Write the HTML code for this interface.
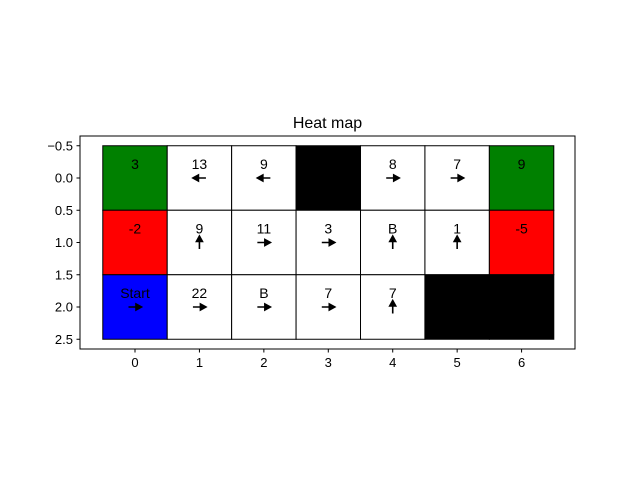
<!DOCTYPE html>
<html><head><meta charset="utf-8"><style>body{margin:0;background:#fff}svg{display:block;font-family:"Liberation Sans","DejaVu Sans",sans-serif}</style></head>
<body>
<svg id="c" width="640" height="480" xmlns="http://www.w3.org/2000/svg">
<text x="327.5" y="128" font-size="16" text-anchor="middle">Heat map</text>
<g id="cells"></g>
<rect x="80" y="136" width="495" height="213" fill="none" stroke="#000" stroke-width="1"/>
<g id="ticks" font-size="13"></g>
</svg>
<script>
const colLabels=[0,1,2,3,4,5,6];
const rowTicks=["−0.5","0.0","0.5","1.0","1.5","2.0","2.5"];
const rowTickVals=[-0.5,0,0.5,1,1.5,2,2.5];
const cellColors=[
["green","white","white","black","white","white","green"],
["red","white","white","white","white","white","red"],
["blue","white","white","white","white","black","black"]];
const cellLabels=[
["3","13","9","","8","7","9"],
["-2","9","11","3","B","1","-5"],
["Start","22","B","7","7","",""]];
const cellArrows=[
["","left","left","","right","right",""],
["","up","right","right","up","up",""],
["right","right","right","right","up","",""]];
const colorMap={green:"#008000",red:"#ff0000",blue:"#0000ff",black:"#000000",white:"#ffffff"};
const X=v=>135+v*64.43, Y=v=>178+v*64.5;
const NS="http://www.w3.org/2000/svg";
const g=document.getElementById('cells'), t=document.getElementById('ticks');
function mk(tag,attrs,parent){const e=document.createElementNS(NS,tag);for(const k in attrs)e.setAttribute(k,attrs[k]);parent.appendChild(e);return e;}
cellColors.forEach((row,r)=>row.forEach((c,ci)=>{
  const rc=mk('rect',{x:X(ci-0.5),y:Y(r-0.5),width:64.43,height:64.5,fill:colorMap[c],stroke:'#000','stroke-width':1},g);
  
  
  const lab=cellLabels[r][ci];
  if(lab){const tx=mk('text',{x:X(ci),y:Y(r)-9,'font-size':14,'text-anchor':'middle'},g);tx.textContent=lab;
    
    }
  const a=cellArrows[r][ci];
  if(a){const cx=X(ci),cy=Y(r);let p;
    if(a==='right')p=`M${cx-6.5},${cy} L${cx+2},${cy} M${cx+6.5},${cy} L${cx+1},${cy-3} L${cx+1},${cy+3}Z`;
    if(a==='left')p=`M${cx+6.5},${cy} L${cx-2},${cy} M${cx-6.5},${cy} L${cx-1},${cy-3} L${cx-1},${cy+3}Z`;
    if(a==='up')p=`M${cx},${cy+6.5} L${cx},${cy-2} M${cx},${cy-6.5} L${cx-3},${cy-1} L${cx+3},${cy-1}Z`;
    const ar=mk('path',{d:p,stroke:'#000','stroke-width':1.6,fill:'#000'},g);
    
    }
}));
colLabels.forEach(v=>{mk('line',{x1:X(v),x2:X(v),y1:349,y2:352.5,stroke:'#000'},t);
  const tx=mk('text',{x:X(v),y:367,'text-anchor':'middle'},t);tx.textContent=v;
  
  });
rowTickVals.forEach((v,i)=>{mk('line',{x1:76.5,x2:80,y1:Y(v),y2:Y(v),stroke:'#000'},t);
  const tx=mk('text',{x:73,y:Y(v)+4.5,'text-anchor':'end'},t);tx.textContent=rowTicks[i];
  
  });
</script>
</body></html>
